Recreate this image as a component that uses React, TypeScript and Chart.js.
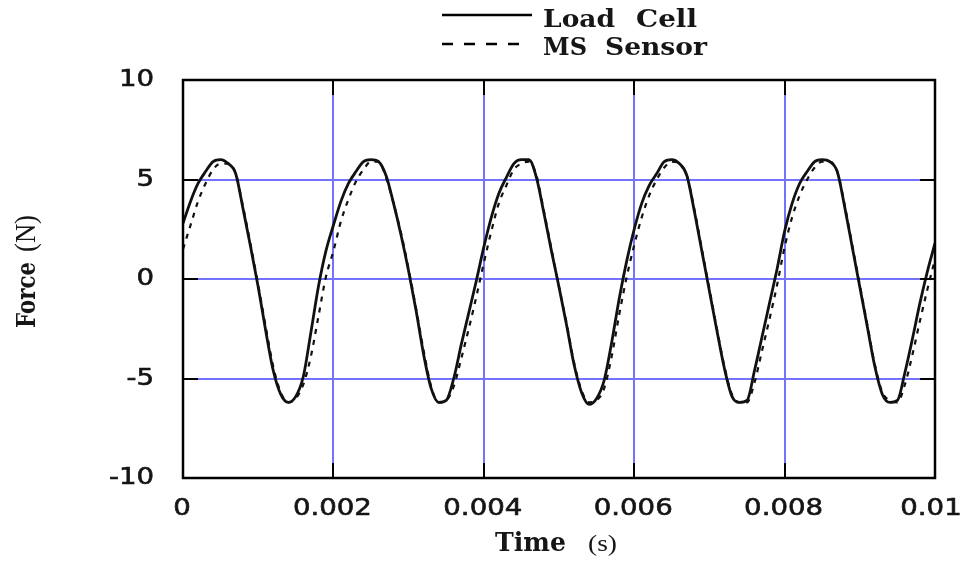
import React, { useEffect, useRef } from "react";
import { Chart, registerables } from "chart.js";

Chart.register(...registerables);

// Time axis: 0 .. 0.01 s sampled every 0.0001 s
const timeSeconds: number[] = Array.from({ length: 101 }, (_, i) => Number((i * 0.0001).toFixed(4)));

const loadCell: number[] = [
  2.8, 3.9, 4.8, 5.4, 5.9, 6.0, 5.8, 5.3, 3.5, 1.6,
  -0.4, -2.6, -4.6, -5.8, -6.2, -5.9, -4.9, -2.7, -0.4, 1.4,
  2.7, 3.9, 4.8, 5.4, 5.9, 6.0, 5.9, 5.2, 3.8, 2.2,
  0.4, -1.6, -3.8, -5.5, -6.2, -6.1, -5.0, -3.3, -1.7, -0.1,
  1.6, 3.1, 4.3, 5.1, 5.8, 6.0, 6.0, 5.1, 3.3, 1.4,
  -0.4, -2.3, -4.3, -5.7, -6.3, -6.0, -5.1, -3.2, -1.0, 0.9,
  2.5, 3.8, 4.7, 5.3, 5.9, 6.0, 5.8, 5.2, 3.4, 1.4,
  -0.6, -2.6, -4.5, -5.9, -6.2, -6.1, -4.6, -2.9, -1.2, 0.5,
  2.4, 3.8, 4.8, 5.4, 5.9, 6.0, 5.9, 5.4, 3.6, 1.6,
  -0.4, -2.4, -4.4, -5.8, -6.2, -6.1, -4.7, -3.0, -1.2, 0.4,
  1.8,
];

const msSensor: number[] = [
  1.5, 2.7, 3.9, 4.8, 5.5, 5.8, 5.8, 5.3, 3.6, 1.7,
  -0.3, -2.4, -4.4, -5.7, -6.2, -6.0, -5.3, -3.9, -1.9, 0.1,
  1.4, 2.9, 4.0, 4.9, 5.5, 5.9, 5.9, 5.1, 3.8, 2.3,
  0.5, -1.5, -3.6, -5.4, -6.2, -6.1, -5.4, -4.0, -2.5, -0.9,
  0.8, 2.4, 3.8, 4.7, 5.5, 5.8, 5.9, 5.2, 3.4, 1.5,
  -0.4, -2.2, -4.2, -5.6, -6.2, -6.1, -5.5, -3.9, -1.8, 0.1,
  1.7, 3.1, 4.2, 5.0, 5.6, 5.9, 5.8, 5.2, 3.5, 1.5,
  -0.5, -2.5, -4.4, -5.8, -6.2, -6.2, -5.2, -3.6, -2.0, -0.3,
  1.6, 3.1, 4.2, 5.0, 5.6, 5.9, 5.9, 5.4, 3.7, 1.7,
  -0.3, -2.3, -4.3, -5.7, -6.1, -6.2, -5.3, -3.8, -2.1, -0.5,
  1.0,
];

const legendWords: [string, string][] = [
  ["Load", "Cell"],
  ["MS", "Sensor"],
];
const xTitle: [string, string] = ["Time", "(s)"];
const yTitle: [string, string] = ["Force", "(N)"];

const GRID_BLUE = "rgb(115,115,255)";
const SERIF = "'DejaVu Serif', 'Liberation Serif', serif";
const SERIF2 = "'Liberation Serif', 'DejaVu Serif', serif";
const SANS = "'DejaVu Sans', 'Liberation Sans', sans-serif";

function fitText(
  ctx: CanvasRenderingContext2D,
  text: string,
  x: number,
  y: number,
  width: number,
  font: string,
  sy = 1
) {
  ctx.save();
  ctx.font = font;
  ctx.textAlign = "left";
  ctx.textBaseline = "alphabetic";
  const w = ctx.measureText(text).width;
  ctx.translate(x, y);
  ctx.scale(width / w, sy);
  ctx.fillText(text, 0, 0);
  ctx.restore();
}

function stretchText(ctx: CanvasRenderingContext2D, text: string, cx: number, y: number, sx: number, align: "center" | "right") {
  ctx.save();
  ctx.translate(cx, y);
  ctx.scale(sx, 1);
  ctx.textAlign = align;
  ctx.textBaseline = "alphabetic";
  ctx.lineWidth = 0.6;
  ctx.strokeStyle = ctx.fillStyle as string;
  ctx.fillText(text, 0, 0);
  ctx.strokeText(text, 0, 0);
  ctx.restore();
}

const framePlugin = {
  id: "frame",
  afterDatasetsDraw(chart: any) {
    const { ctx, chartArea: a, scales } = chart;
    ctx.save();
    // inward tick marks
    ctx.strokeStyle = "#000";
    ctx.lineWidth = 2;
    const tl = 15;
    scales.x.ticks.forEach((t: any) => {
      const px = Math.round(scales.x.getPixelForValue(t.value));
      ctx.beginPath();
      ctx.moveTo(px, a.top);
      ctx.lineTo(px, a.top + tl);
      ctx.moveTo(px, a.bottom);
      ctx.lineTo(px, a.bottom - tl);
      ctx.stroke();
    });
    scales.y.ticks.forEach((t: any) => {
      const py = Math.round(scales.y.getPixelForValue(t.value));
      ctx.beginPath();
      ctx.moveTo(a.left, py);
      ctx.lineTo(a.left + tl, py);
      ctx.moveTo(a.right, py);
      ctx.lineTo(a.right - tl, py);
      ctx.stroke();
    });
    ctx.lineWidth = 2.5;
    ctx.strokeRect(a.left, a.top, a.right - a.left, a.bottom - a.top);

    // tick labels (positions from the scales)
    ctx.fillStyle = "#141414";
    ctx.font = `23px ${SANS}`;
    scales.x.ticks.forEach((t: any) => {
      const px = scales.x.getPixelForValue(t.value);
      const label = String(Number(Number(t.value).toFixed(4)));
      const shift = t.value >= 0.0099 ? -4 : -1;
      stretchText(ctx, label, px + shift, a.bottom + 37, 1.2, "center");
    });
    scales.y.ticks.forEach((t: any) => {
      const py = scales.y.getPixelForValue(t.value);
      stretchText(ctx, String(t.value), a.left - 29, py + 6, 1.2, "right");
    });

    // legend
    ctx.strokeStyle = "#000";
    ctx.lineWidth = 2.4;
    ctx.beginPath();
    ctx.moveTo(442, 15);
    ctx.lineTo(532, 15);
    ctx.stroke();
    ctx.setLineDash([11, 11]);
    ctx.beginPath();
    ctx.moveTo(442, 44);
    ctx.lineTo(522, 44);
    ctx.stroke();
    ctx.setLineDash([]);
    ctx.fillStyle = "#161616";
    const bold = `bold 24px ${SERIF}`;
    fitText(ctx, legendWords[0][0], 543, 27, 72, bold);
    fitText(ctx, legendWords[0][1], 636, 27, 61, bold);
    fitText(ctx, legendWords[1][0], 543, 55, 44, bold);
    fitText(ctx, legendWords[1][1], 605, 55, 102, bold);

    // axis titles
    fitText(ctx, xTitle[0], 495, 551, 71, `bold 26px ${SERIF}`);
    fitText(ctx, xTitle[1], 588, 551, 29, `24px ${SERIF2}`);

    ctx.save();
    ctx.translate(35, 328);
    ctx.rotate(-Math.PI / 2);
    fitText(ctx, yTitle[0], 0, 0, 66, `bold 22px ${SERIF}`, 1.2);
    fitText(ctx, yTitle[1], 76, 0, 37, `24px ${SERIF2}`, 1.2);
    ctx.restore();

    ctx.restore();
  },
};

export default function App() {
  const ref = useRef<HTMLCanvasElement | null>(null);
  useEffect(() => {
    if (!ref.current) return;
    const chart = new Chart(ref.current, {
      type: "line",
      data: {
        datasets: [
          {
            label: "Load Cell",
            data: timeSeconds.map((t, i) => ({ x: t, y: loadCell[i] })),
            borderColor: "#111",
            borderWidth: 2.8,
            pointRadius: 0,
            cubicInterpolationMode: "monotone",
            fill: false,
          },
          {
            label: "MS Sensor",
            data: timeSeconds.map((t, i) => ({ x: t, y: msSensor[i] })),
            borderColor: "#111",
            borderWidth: 2.2,
            borderDash: [5, 6],
            pointRadius: 0,
            cubicInterpolationMode: "monotone",
            fill: false,
          },
        ],
      },
      options: {
        responsive: false,
        animation: false,
        events: [],
        layout: { padding: { top: 80, right: 34, left: 0, bottom: 0 } },
        plugins: { legend: { display: false }, tooltip: { enabled: false }, title: { display: false } },
        scales: {
          x: {
            type: "linear",
            min: 0,
            max: 0.01,
            border: { display: false },
            grid: { color: GRID_BLUE, lineWidth: 2, drawTicks: false },
            ticks: { stepSize: 0.002, display: false },
            afterFit: (s: any) => {
              s.height = 83;
            },
          },
          y: {
            type: "linear",
            min: -10,
            max: 10,
            border: { display: false },
            grid: { color: GRID_BLUE, lineWidth: 2, drawTicks: false },
            ticks: { stepSize: 5, display: false },
            afterFit: (s: any) => {
              s.width = 183;
            },
          },
        },
      },
      plugins: [framePlugin],
    });
    return () => chart.destroy();
  }, []);
  return (
    <div style={{ position: "fixed", left: 0, top: 0, width: 969, height: 561, background: "#fff" }}>
      <canvas ref={ref} width={969} height={561} style={{ width: 969, height: 561, display: "block" }} />
    </div>
  );
}
